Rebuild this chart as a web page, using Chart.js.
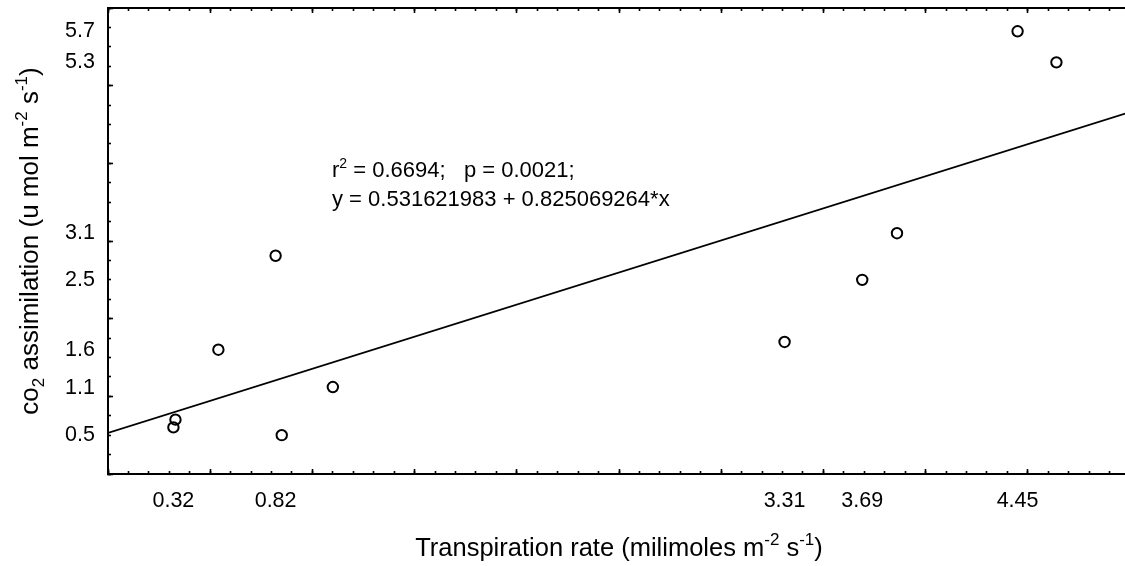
<!DOCTYPE html>
<html>
<head>
<meta charset="utf-8">
<script src="https://cdn.jsdelivr.net/npm/chart.js@4.4.1/dist/chart.umd.min.js"></script>
<style>
  html, body { margin: 0; padding: 0; overflow: hidden; background: #fff; }
  #wrap { width: 1140px; height: 566px; position: relative; }
</style>
</head>
<body>
<div id="wrap"><canvas id="myChart"></canvas></div>
<script>
// values
const transpiration = [0.32, 0.33, 0.54, 0.82, 0.85, 1.10, 3.31, 3.69, 3.86, 4.45, 4.64];
const assimilation  = [0.60, 0.70, 1.60, 2.81, 0.50, 1.12, 1.70, 2.50, 3.10, 5.70, 5.30];
const xTickLabels = [0.32, 0.82, 3.31, 3.69, 4.45];
const yTickLabels = [0.5, 1.1, 1.6, 2.5, 3.1, 5.3, 5.7];
// regression line end points
const fitX = [0, 5];
const fitY = [0.53, 4.66];

const FONT = "'Liberation Sans', Arial, sans-serif";
Chart.defaults.font.family = FONT;
Chart.defaults.color = '#000';

const xMin = 0, xMax = 5, yMin = 0, yMax = 6;

// axis that only draws tick marks, pointing into the plot
function tickAxis(pos, step, len, weight, border) {
  const horiz = (pos === 'top' || pos === 'bottom');
  return {
    type: 'linear',
    position: pos,
    axis: horiz ? 'x' : 'y',
    min: horiz ? xMin : yMin,
    max: horiz ? xMax : yMax,
    weight: weight,
    ticks: { display: false, stepSize: step },
    grid: { drawOnChartArea: false, drawTicks: true, tickLength: -len, tickColor: '#000', tickWidth: 1.6 },
    border: { display: border, color: '#000', width: 2 },
    afterFit: function (s) {
      if (horiz) s.height = 0; else s.width = 0;
      s.paddingTop = s.paddingBottom = s.paddingLeft = s.paddingRight = 0;
    }
  };
}

// drawing text with super / subscripts
function richText(ctx, parts, x, y, size, align) {
  const small = Math.round(size * 0.65);
  let w = 0;
  parts.forEach(p => {
    ctx.font = (p[1] ? small : size) + 'px ' + FONT;
    w += ctx.measureText(p[0]).width;
  });
  let cx = align === 'center' ? x - w / 2 : x;
  ctx.textAlign = 'left';
  ctx.textBaseline = 'alphabetic';
  ctx.fillStyle = '#000';
  parts.forEach(p => {
    ctx.font = (p[1] ? small : size) + 'px ' + FONT;
    let dy = 0;
    if (p[1] === 'sup') dy = -size * 0.42;
    if (p[1] === 'sub') dy = size * 0.22;
    ctx.fillText(p[0], cx, y + dy);
    cx += ctx.measureText(p[0]).width;
  });
}

const textPlugin = {
  id: 'texts',
  afterDraw(chart) {
    const ctx = chart.ctx;
    const area = chart.chartArea;
    ctx.save();
    // x axis title
    richText(ctx, [['Transpiration rate (milimoles m'], ['-2', 'sup'], [' s'], ['-1', 'sup'], [')']],
      (area.left + area.right) / 2, 556, 25.5, 'center');
    // y axis title
    ctx.save();
    ctx.translate(38, (area.top + area.bottom) / 2);
    ctx.rotate(-Math.PI / 2);
    richText(ctx, [['co'], ['2', 'sub'], [' assimilation (u mol m'], ['-2', 'sup'], [' s'], ['-1', 'sup'], [')']],
      0, 0, 26, 'center');
    ctx.restore();
    // fit statistics
    richText(ctx, [['r'], ['2', 'sup'], [' = 0.6694;   p = 0.0021;']], 332, 177, 22, 'left');
    richText(ctx, [['y = 0.531621983 + 0.825069264*x']], 332, 206, 22, 'left');
    ctx.restore();
  }
};

const ctx = document.getElementById('myChart').getContext('2d');
const myChart = new Chart(ctx, {
  type: 'scatter',
  data: {
    datasets: [
      {
        type: 'line',
        data: fitX.map((x, i) => ({ x: x, y: fitY[i] })),
        borderColor: '#000',
        borderWidth: 1.8,
        pointRadius: 0,
        fill: false,
        xAxisID: 'x',
        yAxisID: 'y'
      },
      {
        type: 'scatter',
        data: transpiration.map((x, i) => ({ x: x, y: assimilation[i] })),
        pointStyle: 'circle',
        pointRadius: 5.2,
        pointBorderWidth: 2,
        borderColor: '#000',
        backgroundColor: 'rgba(0,0,0,0)',
        xAxisID: 'x',
        yAxisID: 'y'
      }
    ]
  },
  options: {
    responsive: true,
    maintainAspectRatio: false,
    animation: false,
    layout: { padding: { left: 0, top: 8, right: 10, bottom: 0 } },
    plugins: {
      legend: { display: false },
      tooltip: { enabled: false }
    },
    scales: {
      xMaj: tickAxis('bottom', 0.5, 5, -2, false),
      x: tickAxis('bottom', 0.1, 3, -1, true),
      xLab: {
        type: 'linear', position: 'bottom', axis: 'x', min: xMin, max: xMax, weight: 0,
        afterBuildTicks: s => { s.ticks = xTickLabels.map(v => ({ value: v })); },
        ticks: { autoSkip: false, maxRotation: 0, padding: 14, font: { size: 21.5 }, callback: v => String(v) },
        grid: { display: false, drawTicks: false },
        border: { display: false },
        afterFit: s => { s.height = 92; s.paddingLeft = s.paddingRight = 0; }
      },
      xTopMaj: tickAxis('top', 0.5, 5, -2, false),
      xTop: tickAxis('top', 0.1, 3, -1, true),
      yMaj: tickAxis('left', 1, 5, -2, false),
      y: tickAxis('left', 0.25, 3, -1, true),
      yLab: {
        type: 'linear', position: 'left', axis: 'y', min: yMin, max: yMax, weight: 0,
        afterBuildTicks: s => { s.ticks = yTickLabels.map(v => ({ value: v })); },
        ticks: { autoSkip: false, padding: 13, font: { size: 21.5 }, callback: v => String(v) },
        grid: { display: false, drawTicks: false },
        border: { display: false },
        afterFit: s => { s.width = 108; s.paddingTop = s.paddingBottom = 0; }
      }
    }
  },
  plugins: [textPlugin]
});
</script>
</body>
</html>
